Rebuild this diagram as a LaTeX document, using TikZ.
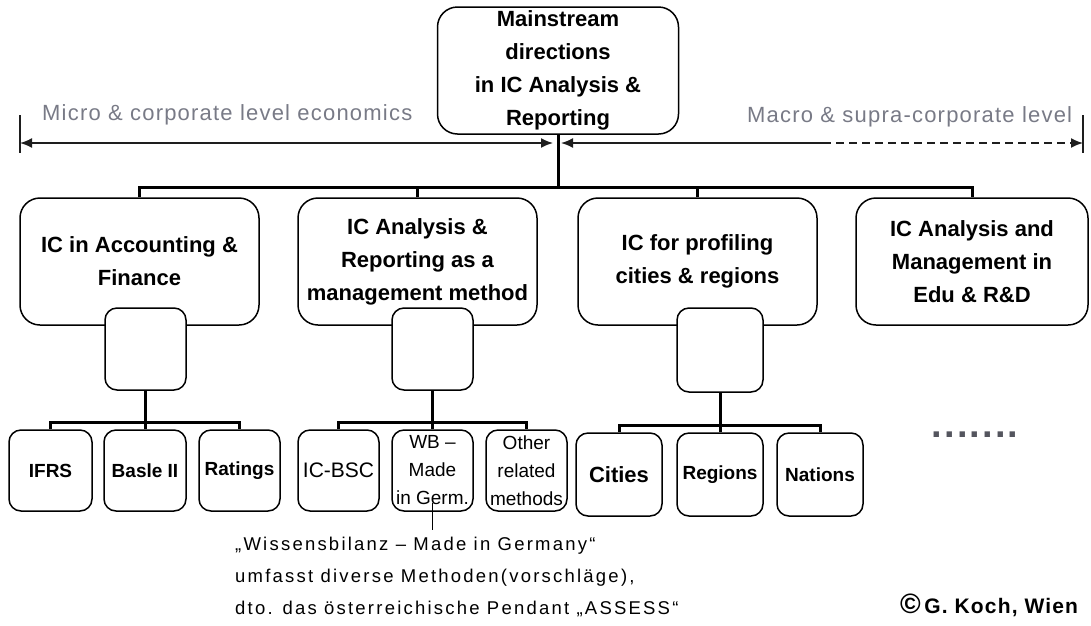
\documentclass[tikz,border=0pt]{standalone}
\usepackage{fontspec}
\setmainfont{Liberation Sans}
\newfontfamily\spacedfont[LetterSpace=5.5]{Liberation Sans}
\newfontfamily\notefont[LetterSpace=12]{Liberation Sans}
\usepackage{xcolor}
\usetikzlibrary{arrows.meta}

\definecolor{labelgray}{RGB}{120,122,134}
\definecolor{linegray}{RGB}{30,30,30}

\begin{document}
\begin{tikzpicture}[x=1pt, y=-1pt,
    bigbox/.style={draw, rounded corners=20pt, line width=1.5pt, fill=white, minimum width=239pt, minimum height=127pt, align=center, font=\fontsize{22}{33}\selectfont\bfseries},
    smallbox/.style={draw, rounded corners=12pt, line width=1.5pt, fill=white, minimum width=82pt, minimum height=82pt},
    leaf/.style={draw, rounded corners=12pt, line width=1.5pt, fill=white, minimum width=83pt, minimum height=81pt, inner sep=1pt, align=center, font=\fontsize{19}{28}\selectfont\bfseries},
    branch/.style={line width=3pt},
    measure/.style={line width=1.7pt, draw=linegray, >={Latex[length=12pt,width=10pt]}},
    graylabel/.style={inner sep=0pt, text=labelgray, font=\fontsize{22}{26}\spacedfont}
    ]
        \useasboundingbox (0,0) rectangle (1091,625);

        % Top
        \node[bigbox, minimum width=241pt] (0) at (558,70.5) {Mainstream\\directions\\in IC Analysis \&\\Reporting};

        % Level 2
        \node[bigbox] (1) at (139.5,261.5) {IC in Accounting \&\\Finance};
        \node[bigbox] (2) at (417.5,261.5) {IC Analysis \&\\Reporting as a\\management method};
        \node[bigbox] (3) at (697.5,261.5) {IC for profiling\\cities \& regions};
        \node[bigbox, minimum width=232pt] (4) at (972,261.5) {IC Analysis and\\Management in\\Edu \& R\&D};

        % Level 3
        \node[smallbox, minimum width=81pt] (1s) at (145.5,349) {};
        \node[smallbox, minimum width=81pt] (2s) at (432.5,349) {};
        \node[smallbox, minimum width=86pt, minimum height=84pt] (3s) at (720,350) {};

        \node[leaf] (1a) at (50.5,470.5) {IFRS};
        \node[leaf, minimum width=82pt] (1b) at (145,470.5) {Basle II};
        \node[leaf, minimum width=81pt] (1c) at (239.5,470.5) {Ratings};

        \node[leaf, minimum width=81pt, font=\fontsize{21}{28}\selectfont] (2a) at (338.5,470.5) {IC-BSC};
        \node[leaf, minimum width=81pt, font=\fontsize{19}{28}\selectfont] (2b) at (432.5,470.5) {WB --\\Made\\in Germ.};
        \node[leaf, minimum width=81pt, font=\fontsize{19}{28}\selectfont] (2c) at (526.5,470.5) {Other\\related\\methods};

        \node[leaf, minimum width=86pt, minimum height=83pt, font=\fontsize{22}{28}\selectfont\bfseries] (3a) at (619,474.5) {Cities};
        \node[leaf, minimum width=86pt, minimum height=83pt] (3b) at (720,474.5) {Regions};
        \node[leaf, minimum width=86pt, minimum height=83pt] (3c) at (820,474.5) {Nations};

        % Tree lines
        \coordinate (bus) at (0,187);
        \coordinate (bus1) at (0,422);
        \coordinate (bus3) at (0,425);

        \draw[branch] (0.south) -- (0.south |- bus);
        \draw[branch] (1.north) -- (1.north |- bus) -- (4.north |- bus) -- (4.north);
        \draw[branch] (2.north) -- (2.north |- bus);
        \draw[branch] (3.north) -- (3.north |- bus);

        \draw[branch] (1s.south) -- (1s.south |- bus1);
        \draw[branch] (1a.north) -- (1a.north |- bus1) -- (1c.north |- bus1) -- (1c.north);
        \draw[branch] (1b.north) -- (1b.north |- bus1);

        \draw[branch] (2s.south) -- (2s.south |- bus1);
        \draw[branch] (2a.north) -- (2a.north |- bus1) -- (2c.north |- bus1) -- (2c.north);
        \draw[branch] (2b.north) -- (2b.north |- bus1);

        \draw[branch] (3s.south) -- (3s.south |- bus3);
        \draw[branch] (3a.north) -- (3a.north |- bus3) -- (3c.north |- bus3) -- (3c.north);
        \draw[branch] (3b.north) -- (3b.north |- bus3);

        % Levels
        \coordinate (l0) at (20,143);
        \coordinate (l1) at (553,143);
        \coordinate (r0) at (561,143);
        \coordinate (r1) at (823,143);
        \coordinate (r2) at (1083,143);

        \draw[measure] ([yshift=28pt]l0) -- ([yshift=-10pt]l0);
        \draw[measure] ([yshift=28pt]r2) -- ([yshift=-10pt]r2);
        \draw[measure, <->] (l0) -- (l1);
        \draw[measure, <-] (r0) -- (r1);
        \draw[measure, ->, dash pattern=on 8pt off 5pt] (r1) -- (r2);

        \node[graylabel, anchor=west] (micro) at (42,115) {Micro \& corporate level economics};
        \node[graylabel, anchor=west] (macro) at (747,117) {Macro \& supra-corporate level};

        % Note
        \coordinate (n0) at (432.5,530);
        \draw[line width=1.2pt] ([yshift=9pt]2b.south) -- (n0);
        \node[anchor=north west, inner sep=0pt, align=left, font=\fontsize{18.5}{32}\notefont] (note) at (235,537)
            {„Wissensbilanz – Made in Germany“\\umfasst diverse Methoden(vorschläge),\\dto. das österreichische Pendant „ASSESS“};

        \node[anchor=base, inner sep=0pt, text=labelgray!70!black, font=\fontsize{38}{38}\spacedfont\bfseries] (dots) at (975,437) {.......};

        \node[anchor=base west, inner sep=0pt, font=\fontsize{21}{24}\spacedfont\bfseries] (copy) at (900,613) {{\fontsize{28}{28}\selectfont ©}\,G. Koch, Wien};

    \end{tikzpicture}
\end{document}
